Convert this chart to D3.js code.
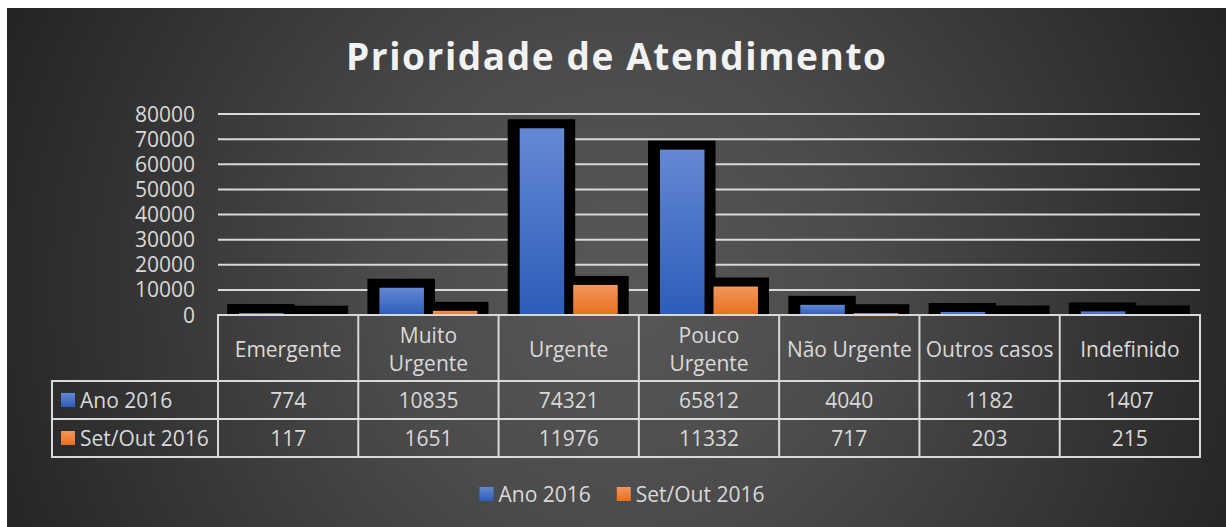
<!DOCTYPE html>
<html lang="pt">
<head>
    <meta charset="UTF-8">
    <title>Prioridade de Atendimento</title>
    <script src="https://d3js.org/d3.v7.min.js"></script>
    <style>
        body { margin: 0; background: #fff; }
        svg { display: block; }
        text { font-family: "Open Sans", "DejaVu Sans", sans-serif; fill: #d9d9d9; }
        .grid line { stroke: #d9d9d9; stroke-width: 2; }
        .table-line { stroke: #d9d9d9; stroke-width: 2; fill: none; }
    </style>
</head>
<body>
<div id="chart"></div>
<script>
// chart data
const categoryLines = [["Emergente"], ["Muito", "Urgente"], ["Urgente"], ["Pouco", "Urgente"],
                       ["Não Urgente"], ["Outros casos"], ["Indefinido"]];
const categories = categoryLines.map(l => l.join(" "));
const series = ["Ano 2016", "Set/Out 2016"];
const ano2016 = [774, 10835, 74321, 65812, 4040, 1182, 1407];
const setOut2016 = [117, 1651, 11976, 11332, 717, 203, 215];
const yTicks = [0, 10000, 20000, 30000, 40000, 50000, 60000, 70000, 80000];
const values = [ano2016, setOut2016];

const W = 1226, H = 527;
const plot = { left: 218, right: 1200, top: 114, bottom: 315 };

const svg = d3.select('#chart').append('svg')
    .attr('width', W)
    .attr('height', H);

// gradients
const defs = svg.append('defs');
const bg = defs.append('radialGradient').attr('id', 'bg')
    .attr('gradientUnits', 'userSpaceOnUse')
    .attr('cx', 620).attr('cy', 290).attr('r', 680);
bg.append('stop').attr('offset', 0).attr('stop-color', '#585858');
bg.append('stop').attr('offset', 0.35).attr('stop-color', '#4b4b4b');
bg.append('stop').attr('offset', 1).attr('stop-color', '#232323');

const fills = [['#6488d3', '#2d5cba'], ['#f2965c', '#e8701d']];
fills.forEach((c, i) => {
    const g = defs.append('linearGradient').attr('id', 'fill' + i)
        .attr('x1', 0).attr('y1', 0).attr('x2', 0).attr('y2', 1);
    g.append('stop').attr('offset', 0).attr('stop-color', c[0]);
    g.append('stop').attr('offset', 1).attr('stop-color', c[1]);
});

svg.append('rect')
    .attr('x', 7).attr('y', 8)
    .attr('width', W - 7).attr('height', H - 8)
    .attr('fill', 'url(#bg)');

// title
svg.append('text')
    .attr('x', 346).attr('y', 70)
    .attr('textLength', 540)
    .attr('lengthAdjust', 'spacing')
    .style('font-size', '37px')
    .style('font-weight', 'bold')
    .style('fill', '#f2f2f2')
    .text('Prioridade de Atendimento');

// scales
const x0 = d3.scaleBand().domain(categories).range([plot.left, plot.right]);
const x1 = d3.scaleBand().domain(series).range([0, x0.bandwidth()])
    .paddingInner(0.168).paddingOuter(0.395);
const y = d3.scaleLinear().domain([0, 80000]).range([plot.bottom, plot.top]);

// gridlines and y labels
const grid = svg.append('g').attr('class', 'grid');
grid.selectAll('line')
    .data(yTicks.filter(d => d > 0))
    .enter().append('line')
    .attr('x1', plot.left).attr('x2', plot.right)
    .attr('y1', d => y(d)).attr('y2', d => y(d));

svg.append('g').selectAll('text')
    .data(yTicks)
    .enter().append('text')
    .attr('x', 195)
    .attr('y', d => y(d))
    .attr('dy', '0.36em')
    .attr('text-anchor', 'end')
    .style('font-size', '21px')
    .text(d => d);

// bars: black halo first, then the coloured fills
const barData = [];
series.forEach((s, si) => {
    categories.forEach((c, ci) => barData.push({ s, si, c, v: values[si][ci] }));
});

svg.append('g').selectAll('rect')
    .data(barData)
    .enter().append('rect')
    .attr('x', d => x0(d.c) + x1(d.s) - 12)
    .attr('y', d => y(d.v) - 9)
    .attr('width', x1.bandwidth() + 23)
    .attr('height', d => y(0) - y(d.v) + 9)
    .attr('fill', '#000');

svg.append('g').selectAll('rect')
    .data(barData)
    .enter().append('rect')
    .attr('x', d => x0(d.c) + x1(d.s))
    .attr('y', d => y(d.v))
    .attr('width', x1.bandwidth())
    .attr('height', d => y(0) - y(d.v))
    .attr('fill', d => `url(#fill${d.si})`);

// data table
const rowY = [315, 381, 419, 457];
const table = svg.append('g');
table.append('line').attr('class', 'table-line')
    .attr('x1', plot.left - 1).attr('x2', plot.right + 1)
    .attr('y1', rowY[0]).attr('y2', rowY[0]);
rowY.slice(1).forEach(ry => {
    table.append('line').attr('class', 'table-line')
        .attr('x1', 51).attr('x2', plot.right + 1)
        .attr('y1', ry).attr('y2', ry);
});
table.append('line').attr('class', 'table-line')
    .attr('x1', 52).attr('x2', 52).attr('y1', rowY[1]).attr('y2', rowY[3]);
categories.concat([null]).forEach((c, i) => {
    const xx = c ? x0(c) : plot.right;
    table.append('line').attr('class', 'table-line')
        .attr('x1', xx).attr('x2', xx).attr('y1', rowY[0]).attr('y2', rowY[3]);
});

// header labels
categories.forEach((c, ci) => {
    const lines = categoryLines[ci];
    const cx = x0(c) + x0.bandwidth() / 2;
    const cy = (rowY[0] + rowY[1]) / 2 + 1;
    lines.forEach((ln, li) => {
        table.append('text')
            .attr('x', cx)
            .attr('y', cy + (li - (lines.length - 1) / 2) * 28)
            .attr('dy', '0.36em')
            .attr('text-anchor', 'middle')
            .style('font-size', '21px')
            .text(ln);
    });
});

// value rows
series.forEach((s, si) => {
    const cy = (rowY[si + 1] + rowY[si + 2]) / 2;
    table.append('rect')
        .attr('x', 61).attr('y', cy - 7)
        .attr('width', 14).attr('height', 14)
        .attr('fill', `url(#fill${si})`);
    table.append('text')
        .attr('x', 80).attr('y', cy)
        .attr('dy', '0.36em')
        .style('font-size', '21px')
        .text(s);
    categories.forEach((c, ci) => {
        table.append('text')
            .attr('x', x0(c) + x0.bandwidth() / 2)
            .attr('y', cy)
            .attr('dy', '0.36em')
            .attr('text-anchor', 'middle')
            .style('font-size', '21px')
            .text(values[si][ci]);
    });
});

// bottom legend
const legend = svg.append('g');
let lx = 0;
series.forEach((s, si) => {
    const item = legend.append('g').attr('transform', `translate(${lx},0)`);
    item.append('rect')
        .attr('x', 0).attr('y', -7)
        .attr('width', 14).attr('height', 14)
        .attr('fill', `url(#fill${si})`);
    const t = item.append('text')
        .attr('x', 19).attr('y', 0)
        .attr('dy', '0.36em')
        .style('font-size', '21px')
        .text(s);
    lx += 19 + t.node().getComputedTextLength() + 26;
});
const legendWidth = lx - 26;
legend.attr('transform', `translate(${622 - legendWidth / 2},494)`);
</script>
</body>
</html>
